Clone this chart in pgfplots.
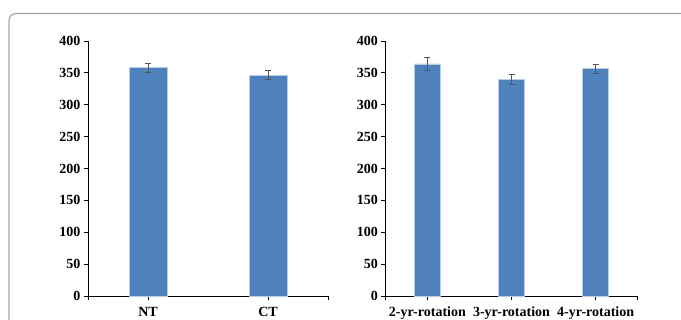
\documentclass[border=0pt]{standalone}
\usepackage{pgfplots}
\pgfplotsset{compat=1.18}
\usepackage{fontspec}
\setmainfont{Liberation Serif}
\definecolor{barblue}{HTML}{4F81BD}
\definecolor{baredge}{HTML}{B9CDE5}
\definecolor{errgray}{HTML}{555555}
\definecolor{framegray}{HTML}{A6A6A6}
\pgfplotsset{
  mybars/.style={
    ybar, scale only axis, anchor=south west,
    height=255pt, ymin=0, ymax=400, ytick={0,50,...,400},
    axis lines*=left,
    tick align=outside, major tick length=4pt,
    axis line style={black, line width=0.8pt},
    tick style={black, line width=0.8pt},
    ticklabel style={font=\fontsize{14}{16}\selectfont\bfseries},
    xticklabel style={yshift=-3.5pt},
    /pgf/number format/assume math mode=true,
    xtick pos=bottom, ytick pos=left,
    enlarge x limits=false,
    clip=false,
  },
  mystyle/.style={
    fill=barblue, draw=baredge, line width=0.8pt,
    error bars/.cd, y dir=both, y explicit,
    error bar style={errgray, line width=0.8pt},
    error mark options={rotate=90, mark size=3pt, errgray, line width=0.8pt},
  }
}
\begin{document}
\begin{tikzpicture}
\useasboundingbox (0,0) rectangle (681pt,320pt);
\begin{scope}
\clip (0,0) rectangle (681pt,320pt);
\draw[framegray, line width=1.2pt, rounded corners=7pt] (9pt,-10pt) -- (9pt,306.5pt) -- (700pt,306.5pt);
\end{scope}
\begin{axis}[mybars, at={(88pt,24pt)}, width=240pt,
  xmin=-0.5, xmax=1.5, bar width=38pt,
  xtick={-0.5,0,1,1.5}, xticklabels={,NT,CT,}]
\addplot[mystyle] coordinates {(0,358.5) +- (0,7) (1,346.5) +- (0,7)};
\end{axis}
\begin{axis}[mybars, at={(385.3pt,24pt)}, width=252.4pt,
  xmin=-0.5, xmax=2.5, bar width=26.3pt,
  xtick={-0.5,0,1,2,2.5}, xticklabels={,2-yr-rotation,3-yr-rotation,4-yr-rotation,}]
\addplot[mystyle] coordinates {(0,364) +- (0,9.5) (1,339.5) +- (0,7.8) (2,356.5) +- (0,7.5)};
\end{axis}
\end{tikzpicture}
\end{document}
